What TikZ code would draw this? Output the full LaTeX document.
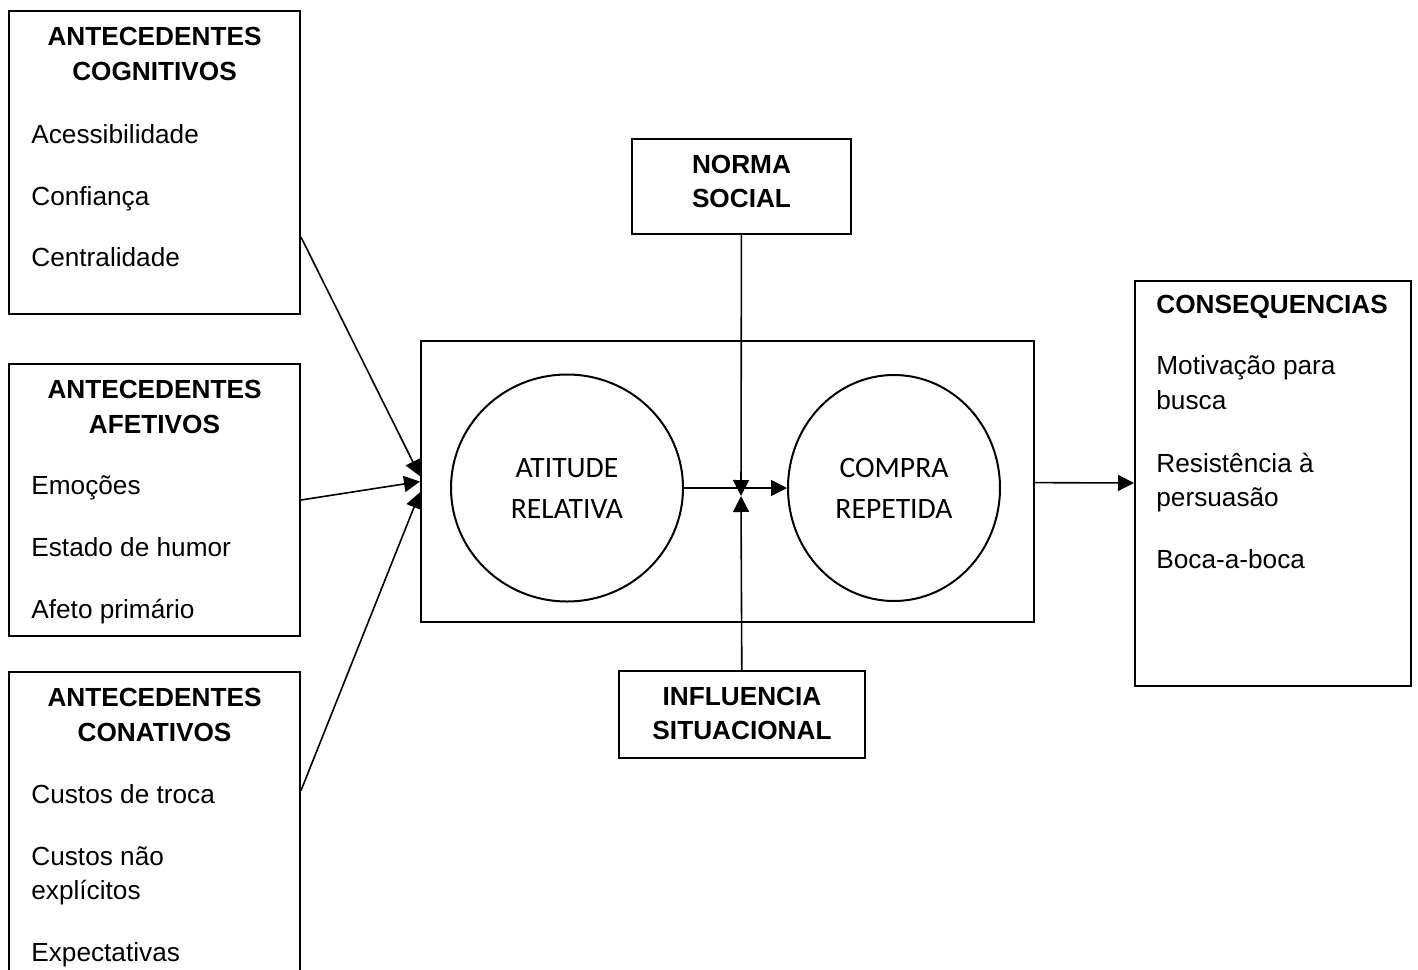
\documentclass[tikz,border=0pt]{standalone}
\usepackage{fontspec}
\setmainfont{Liberation Sans}
\newfontfamily\calfont{Carlito}
\usetikzlibrary{arrows.meta,shapes.geometric}

\begin{document}
\begin{tikzpicture}[x=0.5pt,y=-0.5pt,
  box/.style={draw,line width=1pt,inner sep=0pt},
  oval/.style={draw,ellipse,line width=1pt,inner sep=0pt,align=center,font=\calfont\fontsize{14.8}{20.5}\selectfont},
  head/.style={anchor=base,inner sep=0pt,font=\bfseries\fontsize{13.1}{17}\selectfont},
  item/.style={anchor=base west,inner sep=0pt,font=\fontsize{13.1}{17}\selectfont},
  arr/.style={-{Triangle[length=8pt,width=8pt]},line width=0.8pt}
]
\useasboundingbox (0,0) rectangle (1418,969);

% antecedentes
\node[box,minimum width=145.5pt,minimum height=151.5pt] (cog) at (154.5,162.5) {};
\node[box,minimum width=145.5pt,minimum height=136pt] (afe) at (154.5,500) {};
\node[box,minimum width=145.5pt,minimum height=169pt] (con) at (154.5,841) {};

\node[head] (cogA) at (154.5,45) {ANTECEDENTES};
\node[head] (cogB) at (154.5,80) {COGNITIVOS};
\node[item] (cog1) at (31,143) {Acessibilidade};
\node[item] (cog2) at (31,205) {Confiança};
\node[item] (cog3) at (31,266) {Centralidade};

\node[head] (afeA) at (154.5,398) {ANTECEDENTES};
\node[head] (afeB) at (154.5,433) {AFETIVOS};
\node[item] (afe1) at (31,494) {Emoções};
\node[item] (afe2) at (31,556) {Estado de humor};
\node[item] (afe3) at (31,618) {Afeto primário};

\node[head] (conA) at (154.5,706) {ANTECEDENTES};
\node[head] (conB) at (154.5,741) {CONATIVOS};
\node[item] (con1) at (31,803) {Custos de troca};
\node[item] (con2) at (31,865) {Custos não};
\node[item] (con2b) at (31,899) {explícitos};
\node[item] (con3) at (31,961) {Expectativas};

% centro
\node[box,minimum width=306.5pt,minimum height=140.5pt] (att) at (727.5,481.5) {};
\node[oval,minimum width=116pt,minimum height=113.5pt] (atit) at (567,488) {ATITUDE\\RELATIVA};
\node[oval,minimum width=106pt,minimum height=113pt] (comp) at (894,488) {COMPRA\\REPETIDA};

\node[box,minimum width=109.5pt,minimum height=47.5pt] (norma) at (741.5,186.5) {};
\node[head] (normaA) at (741.5,173) {NORMA};
\node[head] (normaB) at (741.5,207) {SOCIAL};

\node[box,minimum width=123pt,minimum height=43.5pt] (infl) at (742,714.5) {};
\node[head] (inflA) at (742,705) {INFLUENCIA};
\node[head] (inflB) at (742,739) {SITUACIONAL};

\coordinate (meet) at (741,496);

% consequencias
\node[box,minimum width=138pt,minimum height=202.5pt] (cons) at (1273,483.5) {};
\node[head,anchor=base west] (consA) at (1156,313) {CONSEQUENCIAS};
\node[item] (cons1) at (1156,374) {Motivação para};
\node[item] (cons1b) at (1156,409) {busca};
\node[item] (cons2) at (1156,472) {Resistência à};
\node[item] (cons2b) at (1156,506) {persuasão};
\node[item] (cons3) at (1156,568) {Boca-a-boca};

\draw[arr] (cog.-27) -- (att.179);
\draw[arr] (afe.east) -- (att.west);
\draw[arr] (con.19) -- (att.182);
\draw[arr] (atit) -- (comp);
\draw[arr] (norma) -- (meet);
\draw[arr] (infl) -- (meet);
\draw[arr] (att) -- (cons);
\end{tikzpicture}
\end{document}
